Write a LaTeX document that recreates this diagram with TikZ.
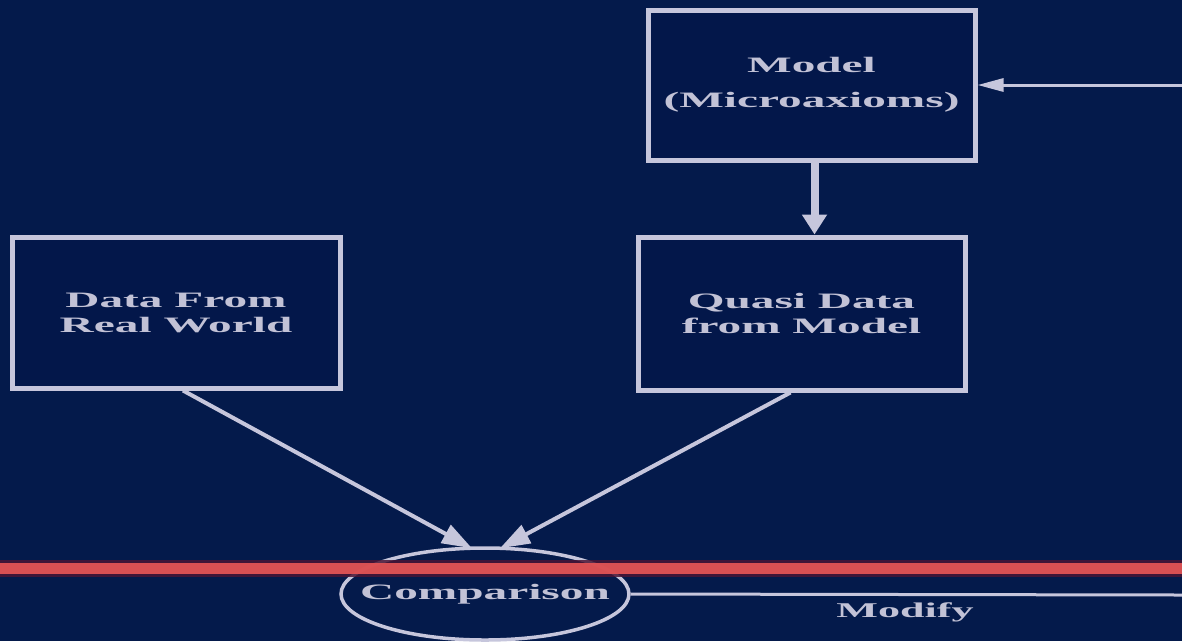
\documentclass[tikz,border=0pt]{standalone}
\usepackage{fontspec}
\setmainfont{Liberation Serif}
\usepackage{graphicx}
\usetikzlibrary{arrows.meta,shapes.geometric}
\definecolor{bgnavy}{HTML}{041A4B}
\definecolor{boxin}{HTML}{03174A}
\definecolor{edge}{HTML}{C6C6DC}
\definecolor{txt}{HTML}{C2C2D6}
\definecolor{redline}{HTML}{E65656}
\definecolor{rededge}{HTML}{4A1535}
\newcommand{\wt}[1]{\scalebox{2.15}[1]{#1}}
\tikzset{
  boxnode/.style={draw=edge, line width=5pt, fill=boxin, rectangle, align=center,
    text=txt, font=\bfseries\fontsize{22}{25}\selectfont, inner sep=0pt},
  ovalnode/.style={draw=edge, line width=3.5pt, ellipse, fill=bgnavy, inner sep=0pt,
    minimum width=288pt, minimum height=92pt},
  lbl/.style={text=txt, font=\bfseries\fontsize{21}{25}\selectfont, inner sep=0pt},
  thickarrow/.style={draw=edge, line width=8pt, -{Triangle[width=24pt,length=20pt]}},
  diagarrow/.style={draw=edge, line width=4pt, -{Triangle[width=20pt,length=30pt]}},
  thinarrow/.style={draw=edge, line width=3pt, -{Triangle[width=13pt,length=26pt]}},
  thinline/.style={draw=edge, line width=3pt}
}
\begin{document}
\begin{tikzpicture}[x=1pt,y=-1pt]
\useasboundingbox[fill=bgnavy] (0,0) rectangle (1182,641);

\node[boxnode, minimum width=327pt, minimum height=150pt] (model) at (811.5,85)
  {\wt{Model}\\[10pt]\wt{(Microaxioms)}};
\node[boxnode, minimum width=327pt, minimum height=153pt] (quasi) at (801.5,313.5)
  {\wt{Quasi Data}\\\wt{from Model}};
\node[boxnode, minimum width=328pt, minimum height=151pt] (data) at (176,312.5)
  {\wt{Data From}\\\wt{Real World}};

\node[ovalnode] (cmp) at (485,594) {};
\node[lbl, font=\bfseries\fontsize{22}{25}\selectfont] (cmptext) at (cmp.center) {\wt{Comparison}};

\coordinate (rtop) at (1182,85);
\coordinate (rbot) at (1182,595);

\draw[thickarrow] ([xshift=3pt]model.south) -- ([xshift=3pt]model.south |- quasi.north);
\draw[thinarrow] (rtop) -- (model.east);
\draw[diagarrow] ([xshift=7pt]data.south) -- ([xshift=-13pt,yshift=-2pt]cmp.north);
\draw[diagarrow] ([xshift=-11pt]quasi.south) -- ([xshift=15pt,yshift=-2pt]cmp.north);
\draw[thinline] (cmp.east) -- (rbot);

\node[lbl] (modify) at (905,612) {\scalebox{2.1}[1]{Modify}};

\draw[rededge, line width=17pt, opacity=0.85] (0,568) -- (1182,568);
\draw[redline, line width=11pt, opacity=0.92] (0,568) -- (1182,568);
\end{tikzpicture}
\end{document}
